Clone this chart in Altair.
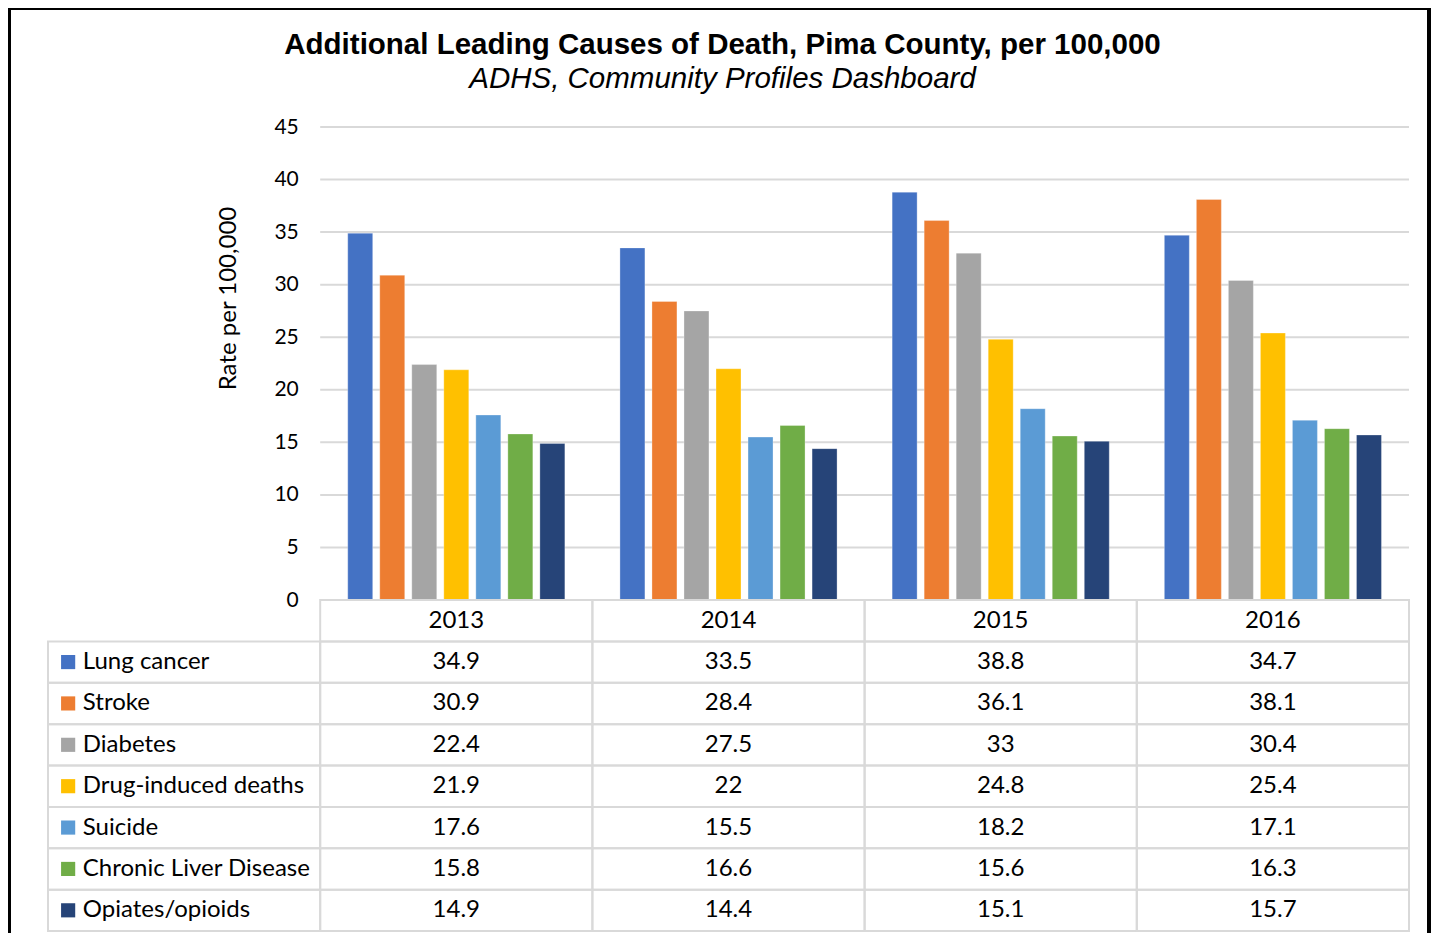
import altair as alt
import pandas as pd

years = ["2013", "2014", "2015", "2016"]
series = ["Lung cancer", "Stroke", "Diabetes", "Drug-induced deaths",
          "Suicide", "Chronic Liver Disease", "Opiates/opioids"]
colors = ["#4472C4", "#ED7D31", "#A5A5A5", "#FFC000", "#5B9BD5", "#70AD47", "#264478"]
lung_cancer = [34.9, 33.5, 38.8, 34.7]
stroke = [30.9, 28.4, 36.1, 38.1]
diabetes = [22.4, 27.5, 33, 30.4]
drug_induced = [21.9, 22, 24.8, 25.4]
suicide = [17.6, 15.5, 18.2, 17.1]
liver = [15.8, 16.6, 15.6, 16.3]
opioids = [14.9, 14.4, 15.1, 15.7]
y_ticks = [0, 5, 10, 15, 20, 25, 30, 35, 40, 45]

values = [lung_cancer, stroke, diabetes, drug_induced, suicide, liver, opioids]

LABEL_COL = "label"
HEADER_ROW = "header"
cols = [LABEL_COL] + years
rows = [HEADER_ROW] + series

recs = []
for s, vals in zip(series, values):
    for y, v in zip(years, vals):
        recs.append({"year": y, "series": s, "value": v, "txt": f"{v:g}"})
df = pd.DataFrame(recs)

grid_df = pd.DataFrame({"tick": y_ticks, "col": "2013"})

cells = []
for c in years:
    for r in rows:
        cells.append({"col": c, "row": r})
for r in series:
    cells.append({"col": LABEL_COL, "row": r})
cells_df = pd.DataFrame(cells)

header_df = pd.DataFrame({"col": years, "row": HEADER_ROW, "txt": years})
labels_df = pd.DataFrame({"col": LABEL_COL, "row": series, "txt": series})

W = 1361
H = 804
BAR_H = 473
FONT = "Lato"

xscale = alt.Scale(domain=cols, paddingInner=0, paddingOuter=0)
yq = alt.Scale(domain=[0, 45], range=[BAR_H, 0], nice=False, zero=True)
yrow = alt.Scale(domain=rows, range=[BAR_H, H], paddingInner=0, paddingOuter=0)
cscale = alt.Scale(domain=series, range=colors)

grid = alt.Chart(grid_df).mark_rule(color="#d9d9d9", strokeWidth=2).encode(
    x=alt.X("col:N", scale=xscale, bandPosition=0, axis=None),
    x2=alt.value(W),
    y=alt.Y("tick:Q", scale=yq,
            axis=alt.Axis(values=y_ticks, offset=-272.25, grid=False, ticks=False,
                          domain=False, labelPadding=22, labelFont=FONT,
                          labelFontSize=21, labelColor="#000000",
                          title="Rate per 100,000", titleFont=FONT,
                          titleFontSize=24, titleFontWeight="normal",
                          titleColor="#000000", titleX=-92, titleY=171,
                          titleAngle=270, titleAlign="center",
                          titleBaseline="middle")),
)

bars = alt.Chart(df).mark_bar(stroke="white", strokeWidth=0.6, strokeOpacity=0.5).encode(
    x=alt.X("year:N", scale=xscale, axis=None),
    xOffset=alt.XOffset("series:N", sort=series,
                        scale=alt.Scale(domain=series, paddingInner=0.22, paddingOuter=0.86)),
    y=alt.Y("value:Q", scale=yq),
    color=alt.Color("series:N", scale=cscale, legend=None),
)

top = alt.layer(grid, bars)

cell_rects = alt.Chart(cells_df).mark_rect(fill="white", fillOpacity=0,
                                           stroke="#d9d9d9", strokeWidth=2).encode(
    x=alt.X("col:N", scale=xscale, axis=None),
    y=alt.Y("row:N", scale=yrow, axis=None),
)

header_txt = alt.Chart(header_df).mark_text(font=FONT, fontSize=24, color="#000000").encode(
    x=alt.X("col:N", scale=xscale, axis=None),
    y=alt.Y("row:N", scale=yrow, axis=None),
    text="txt:N",
)

value_txt = alt.Chart(df).mark_text(font=FONT, fontSize=24, color="#000000").encode(
    x=alt.X("year:N", scale=xscale, axis=None),
    y=alt.Y("series:N", scale=yrow, axis=None),
    text="txt:N",
)

label_txt = alt.Chart(labels_df).mark_text(font=FONT, fontSize=24, color="#000000",
                                           align="left").encode(
    x=alt.X("col:N", scale=xscale, bandPosition=0.128, axis=None),
    y=alt.Y("row:N", scale=yrow, axis=None),
    text="txt:N",
)

squares = alt.Chart(labels_df).mark_square(size=200, opacity=1).encode(
    x=alt.X("col:N", scale=xscale, bandPosition=0.074, axis=None),
    y=alt.Y("row:N", scale=yrow, axis=None),
    color=alt.Color("txt:N", scale=cscale, legend=None),
)

frame = alt.Chart(grid_df).mark_rect(fill="white", fillOpacity=0, stroke="#000000",
                                     strokeWidth=3).encode(
    x=alt.value(-39), x2=alt.value(W + 20),
    y=alt.value(-119), y2=alt.value(H + 30),
)

table = alt.layer(cell_rects, header_txt, value_txt, label_txt, squares)

chart = alt.layer(top, table, frame).resolve_scale(
    y="independent", color="shared"
).properties(
    width=W,
    height=H,
    title=alt.TitleParams(
        text="Additional Leading Causes of Death, Pima County, per 100,000",
        subtitle="ADHS, Community Profiles Dashboard",
        font="Liberation Sans", fontSize=29.5, fontWeight="bold", color="#000000",
        subtitleFont="Liberation Sans", subtitleFontSize=29.5,
        subtitleFontStyle="italic", subtitleColor="#000000",
        anchor="middle", dx=-6, offset=-87.5, subtitlePadding=4,
    ),
    padding={"left": 40, "top": 119, "right": 23, "bottom": 2},
    autosize=alt.AutoSizeParams(type="none"),
).configure_view(stroke=None)

chart.save("out.html", embed_options={"renderer": "svg", "actions": False})
